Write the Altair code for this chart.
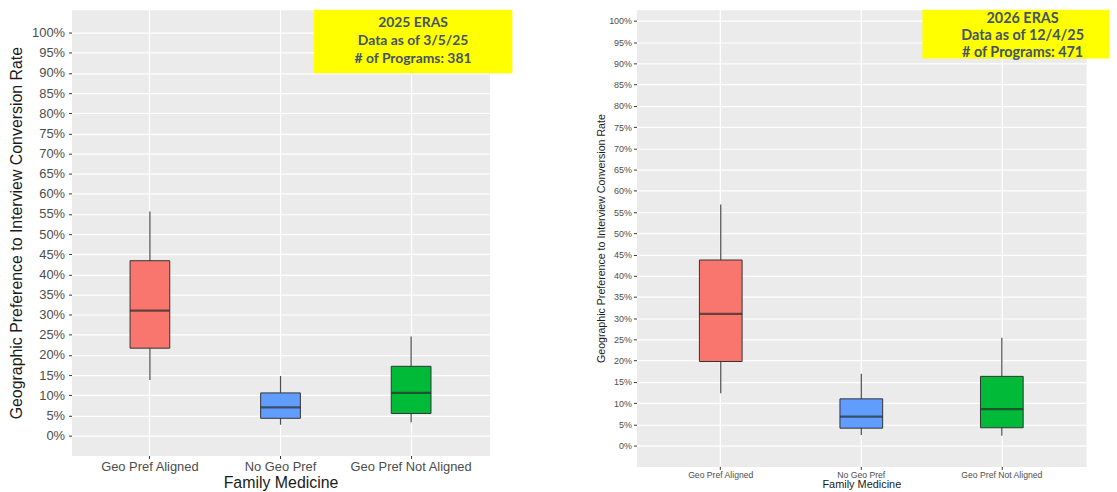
import altair as alt
import pandas as pd

categories = ["Geo Pref Aligned", "No Geo Pref", "Geo Pref Not Aligned"]
box_colors = ["#F8766D", "#619CFF", "#00BA38"]

# 2025 ERAS panel (left)
low_2025 = [0.138, 0.027, 0.033]
q1_2025 = [0.217, 0.043, 0.055]
med_2025 = [0.310, 0.070, 0.106]
q3_2025 = [0.434, 0.106, 0.172]
high_2025 = [0.556, 0.148, 0.246]
note_2025 = ["2025 ERAS", "Data as of 3/5/25", "# of Programs: 381"]

# 2026 ERAS panel (right)
low_2026 = [0.123, 0.025, 0.023]
q1_2026 = [0.198, 0.041, 0.042]
med_2026 = [0.310, 0.068, 0.086]
q3_2026 = [0.437, 0.110, 0.163]
high_2026 = [0.568, 0.169, 0.254]
note_2026 = ["2026 ERAS", "Data as of 12/4/25", "# of Programs: 471"]

y_ticks = [i / 20 for i in range(21)]
y_title = "Geographic Preference to Interview Conversion Rate"
x_title = "Family Medicine"


def panel(lows, q1s, meds, q3s, highs, note, width, height, ydom, boxw,
          ylab, ytit, xlab, xtit, ytpad, ylpad, xlpad, xtpad,
          box, note_size, note_lh, note_xy):
    df = pd.DataFrame({"cat": categories, "low": lows, "q1": q1s,
                       "med": meds, "q3": q3s, "high": highs})
    base = alt.Chart(df)
    x = alt.X("cat:N", sort=categories,
              scale=alt.Scale(domain=categories, paddingInner=0, paddingOuter=0.1),
              axis=alt.Axis(title=x_title, labelAngle=0, labelFontSize=xlab,
                            labelColor="#4D4D4D", titleFontSize=xtit,
                            titleFontWeight="normal", titleColor="#1A1A1A",
                            titlePadding=xtpad, labelPadding=xlpad, tickSize=3,
                            tickColor="#333333", domain=False, grid=True,
                            gridColor="white", gridWidth=1.2))
    yscale = alt.Scale(domain=ydom, nice=False, zero=False)
    yaxis = alt.Axis(title=y_title, values=y_ticks, format=".0%",
                     labelFontSize=ylab, labelColor="#4D4D4D",
                     titleFontSize=ytit, titleFontWeight="normal",
                     titleColor="#1A1A1A", titlePadding=ytpad, labelPadding=ylpad,
                     tickSize=3, tickColor="#333333", domain=False, grid=True,
                     gridColor="white", gridWidth=1.2)
    whisk = base.mark_rule(color="#4D4D4D", strokeWidth=1.2).encode(
        x=x, y=alt.Y("low:Q", scale=yscale, axis=yaxis), y2="high:Q")
    boxes = base.mark_bar(size=boxw, stroke="#333333", strokeWidth=1).encode(
        x=x, y=alt.Y("q1:Q", scale=yscale, axis=yaxis), y2="q3:Q",
        color=alt.Color("cat:N", scale=alt.Scale(domain=categories, range=box_colors),
                        legend=None))
    med = base.mark_tick(size=boxw, thickness=2.2, color="#2B2B2B").encode(
        x=x, y=alt.Y("med:Q", scale=yscale, axis=yaxis))
    one = alt.Chart(pd.DataFrame({"k": [0]}))
    rect = one.mark_rect(color="#FFFF00").encode(
        x=alt.value(box[0]), x2=alt.value(box[1]),
        y=alt.value(box[2]), y2=alt.value(box[3]))
    txt = one.mark_text(font="Lato", fontWeight="bold", fontSize=note_size,
                        lineHeight=note_lh, color="#44546A", align="center",
                        baseline="middle").encode(
        x=alt.value(note_xy[0]), y=alt.value(note_xy[1]), text=alt.value(note))
    return alt.layer(whisk, boxes, med, rect, txt).properties(width=width, height=height)


left = panel(low_2025, q1_2025, med_2025, q3_2025, high_2025, note_2025,
             421, 449, [-0.0493, 1.0567], 40,
             13, 16, 13, 16, 7, 4, 2, 1,
             (244, 444, 0, 64), 14, 18.5, (344, 13))

right = panel(low_2026, q1_2026, med_2026, q3_2026, high_2026, note_2026,
              453, 460, [-0.0491, 1.0264], 43,
              9, 10.7, 8.7, 11, 2, 2, 1, 0,
              (288, 476, 0, 49), 14.5, 17.5, (389, 9))

chart = alt.hconcat(left, right, spacing=148, bounds="flush").properties(
    padding=0
).configure(font="Liberation Sans").configure_view(fill="#EBEBEB", strokeOpacity=0)

chart.save("out.html", embed_options={"renderer": "svg", "actions": False})
